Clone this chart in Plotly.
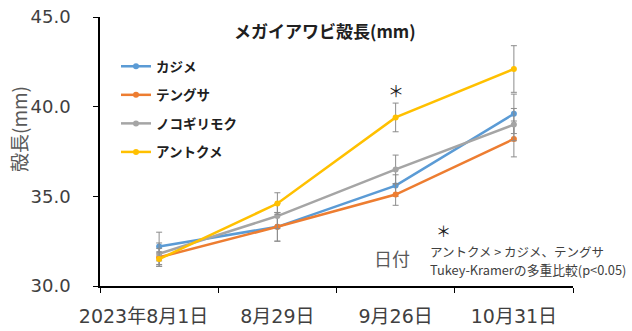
import plotly.graph_objects as go

dates = ["2023年8月1日", "8月29日", "9月26日", "10月31日"]
kajime = [32.2, 33.3, 35.6, 39.6]
kajime_err = [0.8, 0.8, 0.6, 1.1]
tengusa = [31.6, 33.3, 35.1, 38.2]
tengusa_err = [0.5, 0.8, 0.6, 1.0]
nokogiri = [31.8, 33.9, 36.5, 39.0]
nokogiri_err = [0.6, 0.7, 0.8, 0.9]
antokume = [31.5, 34.6, 39.4, 42.1]
antokume_err = [0.4, 0.6, 0.8, 1.3]

series = [
    ("カジメ", kajime, kajime_err, "#5B9BD5"),
    ("テングサ", tengusa, tengusa_err, "#ED7D31"),
    ("ノコギリモク", nokogiri, nokogiri_err, "#A5A5A5"),
    ("アントクメ", antokume, antokume_err, "#FFC000"),
]

FONT = "Noto Sans CJK JP"
TICKFONT = "DejaVu Sans, Noto Sans CJK JP"
W, H = 632, 331
L, R, T, B = 100, 59, 17, 45
PW, PH = W - L - R, H - T - B

def px(x):
    return (x - L) / PW

def py(y):
    return 1 - (y - T) / PH

fig = go.Figure()
for i, (name, vals, err, col) in enumerate(series):
    fig.add_trace(go.Scatter(
        x=dates, y=vals, name=f"<b>{name}</b>", mode="lines+markers",
        line=dict(color=col, width=2.5),
        marker=dict(color=col, size=6),
        error_y=dict(type="data", array=err, visible=True, color="#8C8C8C", thickness=1, width=3),
        legendgroup=f"g{i}",
    ))

# first label sits left of its category centre in the reference
tick_text = [dates[0] + "\u3000\u00a0\u00a0"] + dates[1:]

fig.update_layout(
    width=W, height=H,
    margin=dict(l=L, r=R, t=T, b=B, autoexpand=False),
    paper_bgcolor="white", plot_bgcolor="white",
    font=dict(family=FONT, color="#404040"),
    showlegend=True,
    legend=dict(x=px(116), y=py(51), xanchor="left", yanchor="top",
                bgcolor="rgba(0,0,0,0)", font=dict(size=13.5, color="#202020", family=FONT),
                tracegroupgap=8, itemwidth=30, traceorder="grouped"),
    xaxis=dict(type="category", tickson="boundaries", showline=True, linecolor="#000000",
               linewidth=1.5, ticks="outside", ticklen=5, tickcolor="#000000", tickangle=0,
               tickvals=dates, ticktext=tick_text,
               tickfont=dict(size=19, color="#404040", family=TICKFONT), ticklabelstandoff=12,
               showgrid=False, zeroline=False, range=[-0.5, 3.5], automargin=False),
    yaxis=dict(range=[30, 45], tickvals=[30, 35, 40, 45], ticktext=["30.0", "35.0", "40.0", "45.0"],
               showline=True, linecolor="#000000", linewidth=1.5, ticks="outside", ticklen=5,
               tickcolor="#000000", tickfont=dict(size=18, color="#404040", family=TICKFONT),
               ticklabelstandoff=19, showgrid=False, zeroline=False, automargin=False),
)

ann = [
    dict(x=px(325), y=py(30), text="<b>メガイアワビ殻長(mm)</b>", font=dict(size=17, color="#202020")),
    dict(x=px(18), y=py(129), text="殻長(mm)", textangle=-90, font=dict(size=19, color="#595959")),
    dict(x=px(392), y=py(258), text="日付", font=dict(size=18, color="#595959")),
    dict(x=px(396), y=py(90), text="＊", font=dict(size=16, color="#202020")),
    dict(x=px(443), y=py(230), text="＊", font=dict(size=15, color="#202020")),
    dict(x=px(428), y=py(251), text="アントクメ > カジメ、テングサ", xanchor="left",
         font=dict(size=12.5, color="#404040")),
    dict(x=px(428), y=py(269), text="Tukey-Kramerの多重比較(p<0.05)", xanchor="left",
         font=dict(size=12.8, color="#404040")),
]
for a in ann:
    a.setdefault("xanchor", "center")
    fig.add_annotation(xref="paper", yref="paper", yanchor="middle", showarrow=False, **a)

fig.write_html("out.html")
